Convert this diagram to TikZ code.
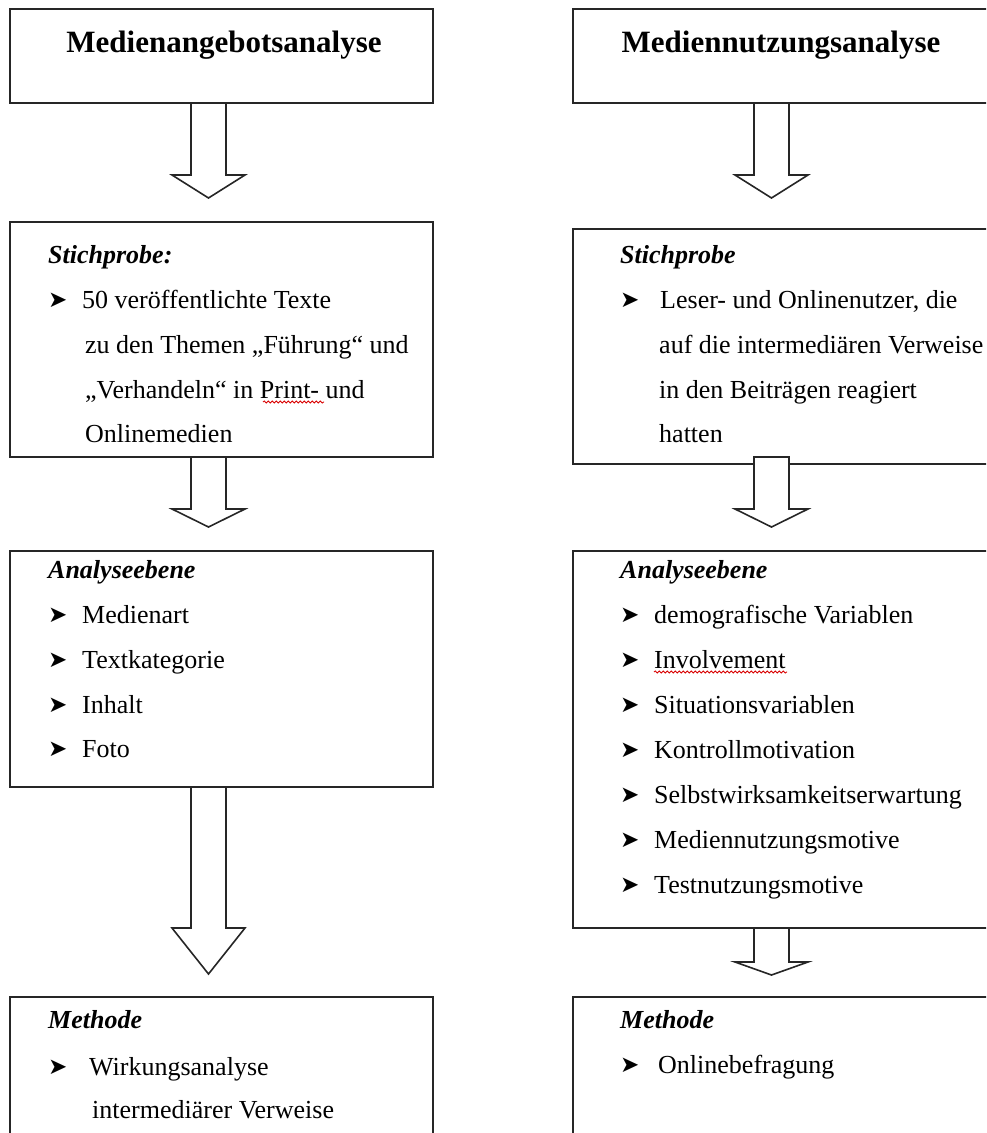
\documentclass[tikz,border=0pt]{standalone}
\usepackage{fontspec}
\setmainfont{Liberation Serif}
\newfontfamily\symfont{DejaVu Sans}
\usetikzlibrary{calc,decorations.pathmorphing}

\tikzset{
  box/.style={draw=black!85, line width=1.6pt, fill=white, rectangle,
    anchor=north west, minimum width=423pt, inner sep=0pt, outer sep=0pt},
  hollow/.style={draw=black!85, line width=1.6pt, fill=white, line join=miter},
  title/.style={font=\fontsize{31}{36}\selectfont\bfseries, anchor=base, inner sep=0pt},
  head/.style={font=\fontsize{26}{30}\selectfont\bfseries\itshape, anchor=base west, inner sep=0pt},
  item/.style={font=\fontsize{26}{30}\selectfont, anchor=base west, inner sep=0pt},
  bullet/.style={font=\symfont\fontsize{23}{24}\selectfont, anchor=base west, inner sep=0pt,
    yshift=1pt},
  spell/.style={draw=red!85!black, line width=0.8pt, decorate,
    decoration={snake, amplitude=1.1pt, segment length=4pt}}
}

% hollow block arrow: #1 source box, #2 target box, #3 shift of the shaft top,
% #4 gap between tip and target, #5 length of the head
\newcommand\blockarrow[5]{%
  \draw[hollow] ($(#1.south)+(-30.5,#3)$) -- ($(#2.north)+(-30.5,-#4-#5)$)
    -- ($(#2.north)+(-49.5,-#4-#5)$) -- ($(#2.north)+(-13,-#4)$)
    -- ($(#2.north)+(23.5,-#4-#5)$) -- ($(#2.north)+(4.5,-#4-#5)$)
    -- ($(#1.south)+(4.5,#3)$) -- cycle;}

\begin{document}
\begin{tikzpicture}[x=1pt,y=-1pt]
\useasboundingbox (0,0) rectangle (986,1133);
\clip (0,0) rectangle (986,1133);

% ---------- left column: Medienangebotsanalyse ----------
\node[box, minimum height=94pt]  (L1) at (10,9)   {};
\node[box, minimum height=235pt] (L2) at (10,222) {};
\node[box, minimum height=236pt] (L3) at (10,551) {};
\node[box, minimum height=220pt] (L4) at (10,997) {};

\node[title] (L1t) at (224,52) {Medienangebotsanalyse};

\node[head]   (L2h)  at (48,263) {Stichprobe:};
\node[bullet] (L2b1) at (48,308) {➤};
\node[item]   (L2i1) at (82,308) {50 veröffentlichte Texte};
\node[item]   (L2i2) at (85,353) {zu den Themen „Führung“ und};
\node[item]   (L2i3) at (85,398) {„Verhandeln“ in Print- und};
\node[item]   (L2i4) at (85,442) {Onlinemedien};

\node[head]   (L3h)  at (48,578) {Analyseebene};
\node[bullet] (L3b1) at (48,623) {➤};
\node[item]   (L3i1) at (82,623) {Medienart};
\node[bullet] (L3b2) at (48,668) {➤};
\node[item]   (L3i2) at (82,668) {Textkategorie};
\node[bullet] (L3b3) at (48,713) {➤};
\node[item]   (L3i3) at (82,713) {Inhalt};
\node[bullet] (L3b4) at (48,757) {➤};
\node[item]   (L3i4) at (82,757) {Foto};

\node[head]   (L4h)  at (48,1028) {Methode};
\node[bullet] (L4b1) at (48,1075) {➤};
\node[item]   (L4i1) at (89,1075) {Wirkungsanalyse};
\node[item]   (L4i2) at (92,1118) {intermediärer Verweise};

% ---------- right column: Mediennutzungsanalyse ----------
\node[box, minimum height=94pt]  (R1) at (573,9)   {};
\node[box, minimum height=235pt] (R2) at (573,229) {};
\node[box, minimum height=377pt] (R3) at (573,551) {};
\node[box, minimum height=220pt] (R4) at (573,997) {};

\node[title] (R1t) at (781,52) {Mediennutzungsanalyse};

\node[head]   (R2h)  at (620,263) {Stichprobe};
\node[bullet] (R2b1) at (620,308) {➤};
\node[item]   (R2i1) at (660,308) {Leser- und Onlinenutzer, die};
\node[item]   (R2i2) at (659,353) {auf die intermediären Verweise};
\node[item]   (R2i3) at (659,398) {in den Beiträgen reagiert};
\node[item]   (R2i4) at (659,442) {hatten};

\node[head]   (R3h)  at (620,578) {Analyseebene};
\node[bullet] (R3b1) at (620,623) {➤};
\node[item]   (R3i1) at (654,623) {demografische Variablen};
\node[bullet] (R3b2) at (620,668) {➤};
\node[item]   (R3i2) at (654,668) {Involvement};
\node[bullet] (R3b3) at (620,713) {➤};
\node[item]   (R3i3) at (654,713) {Situationsvariablen};
\node[bullet] (R3b4) at (620,758) {➤};
\node[item]   (R3i4) at (654,758) {Kontrollmotivation};
\node[bullet] (R3b5) at (620,803) {➤};
\node[item]   (R3i5) at (654,803) {Selbstwirksamkeitserwartung};
\node[bullet] (R3b6) at (620,848) {➤};
\node[item]   (R3i6) at (654,848) {Mediennutzungsmotive};
\node[bullet] (R3b7) at (620,893) {➤};
\node[item]   (R3i7) at (654,893) {Testnutzungsmotive};

\node[head]   (R4h)  at (620,1028) {Methode};
\node[bullet] (R4b1) at (620,1073) {➤};
\node[item]   (R4i1) at (658,1073) {Onlinebefragung};

% spell-check marks
\draw[spell] (263,402) -- (324,402);
\draw[spell] (654,672) -- (787,672);

% ---------- block arrows ----------
\blockarrow{L1}{L2}{0}{24}{23}
\blockarrow{L2}{L3}{0}{24}{18}
\blockarrow{L3}{L4}{0}{23}{46}
\blockarrow{R1}{R2}{0}{31}{23}
\blockarrow{R2}{R3}{-7}{24}{18}
\blockarrow{R3}{R4}{0}{22}{13}
\end{tikzpicture}
\end{document}
